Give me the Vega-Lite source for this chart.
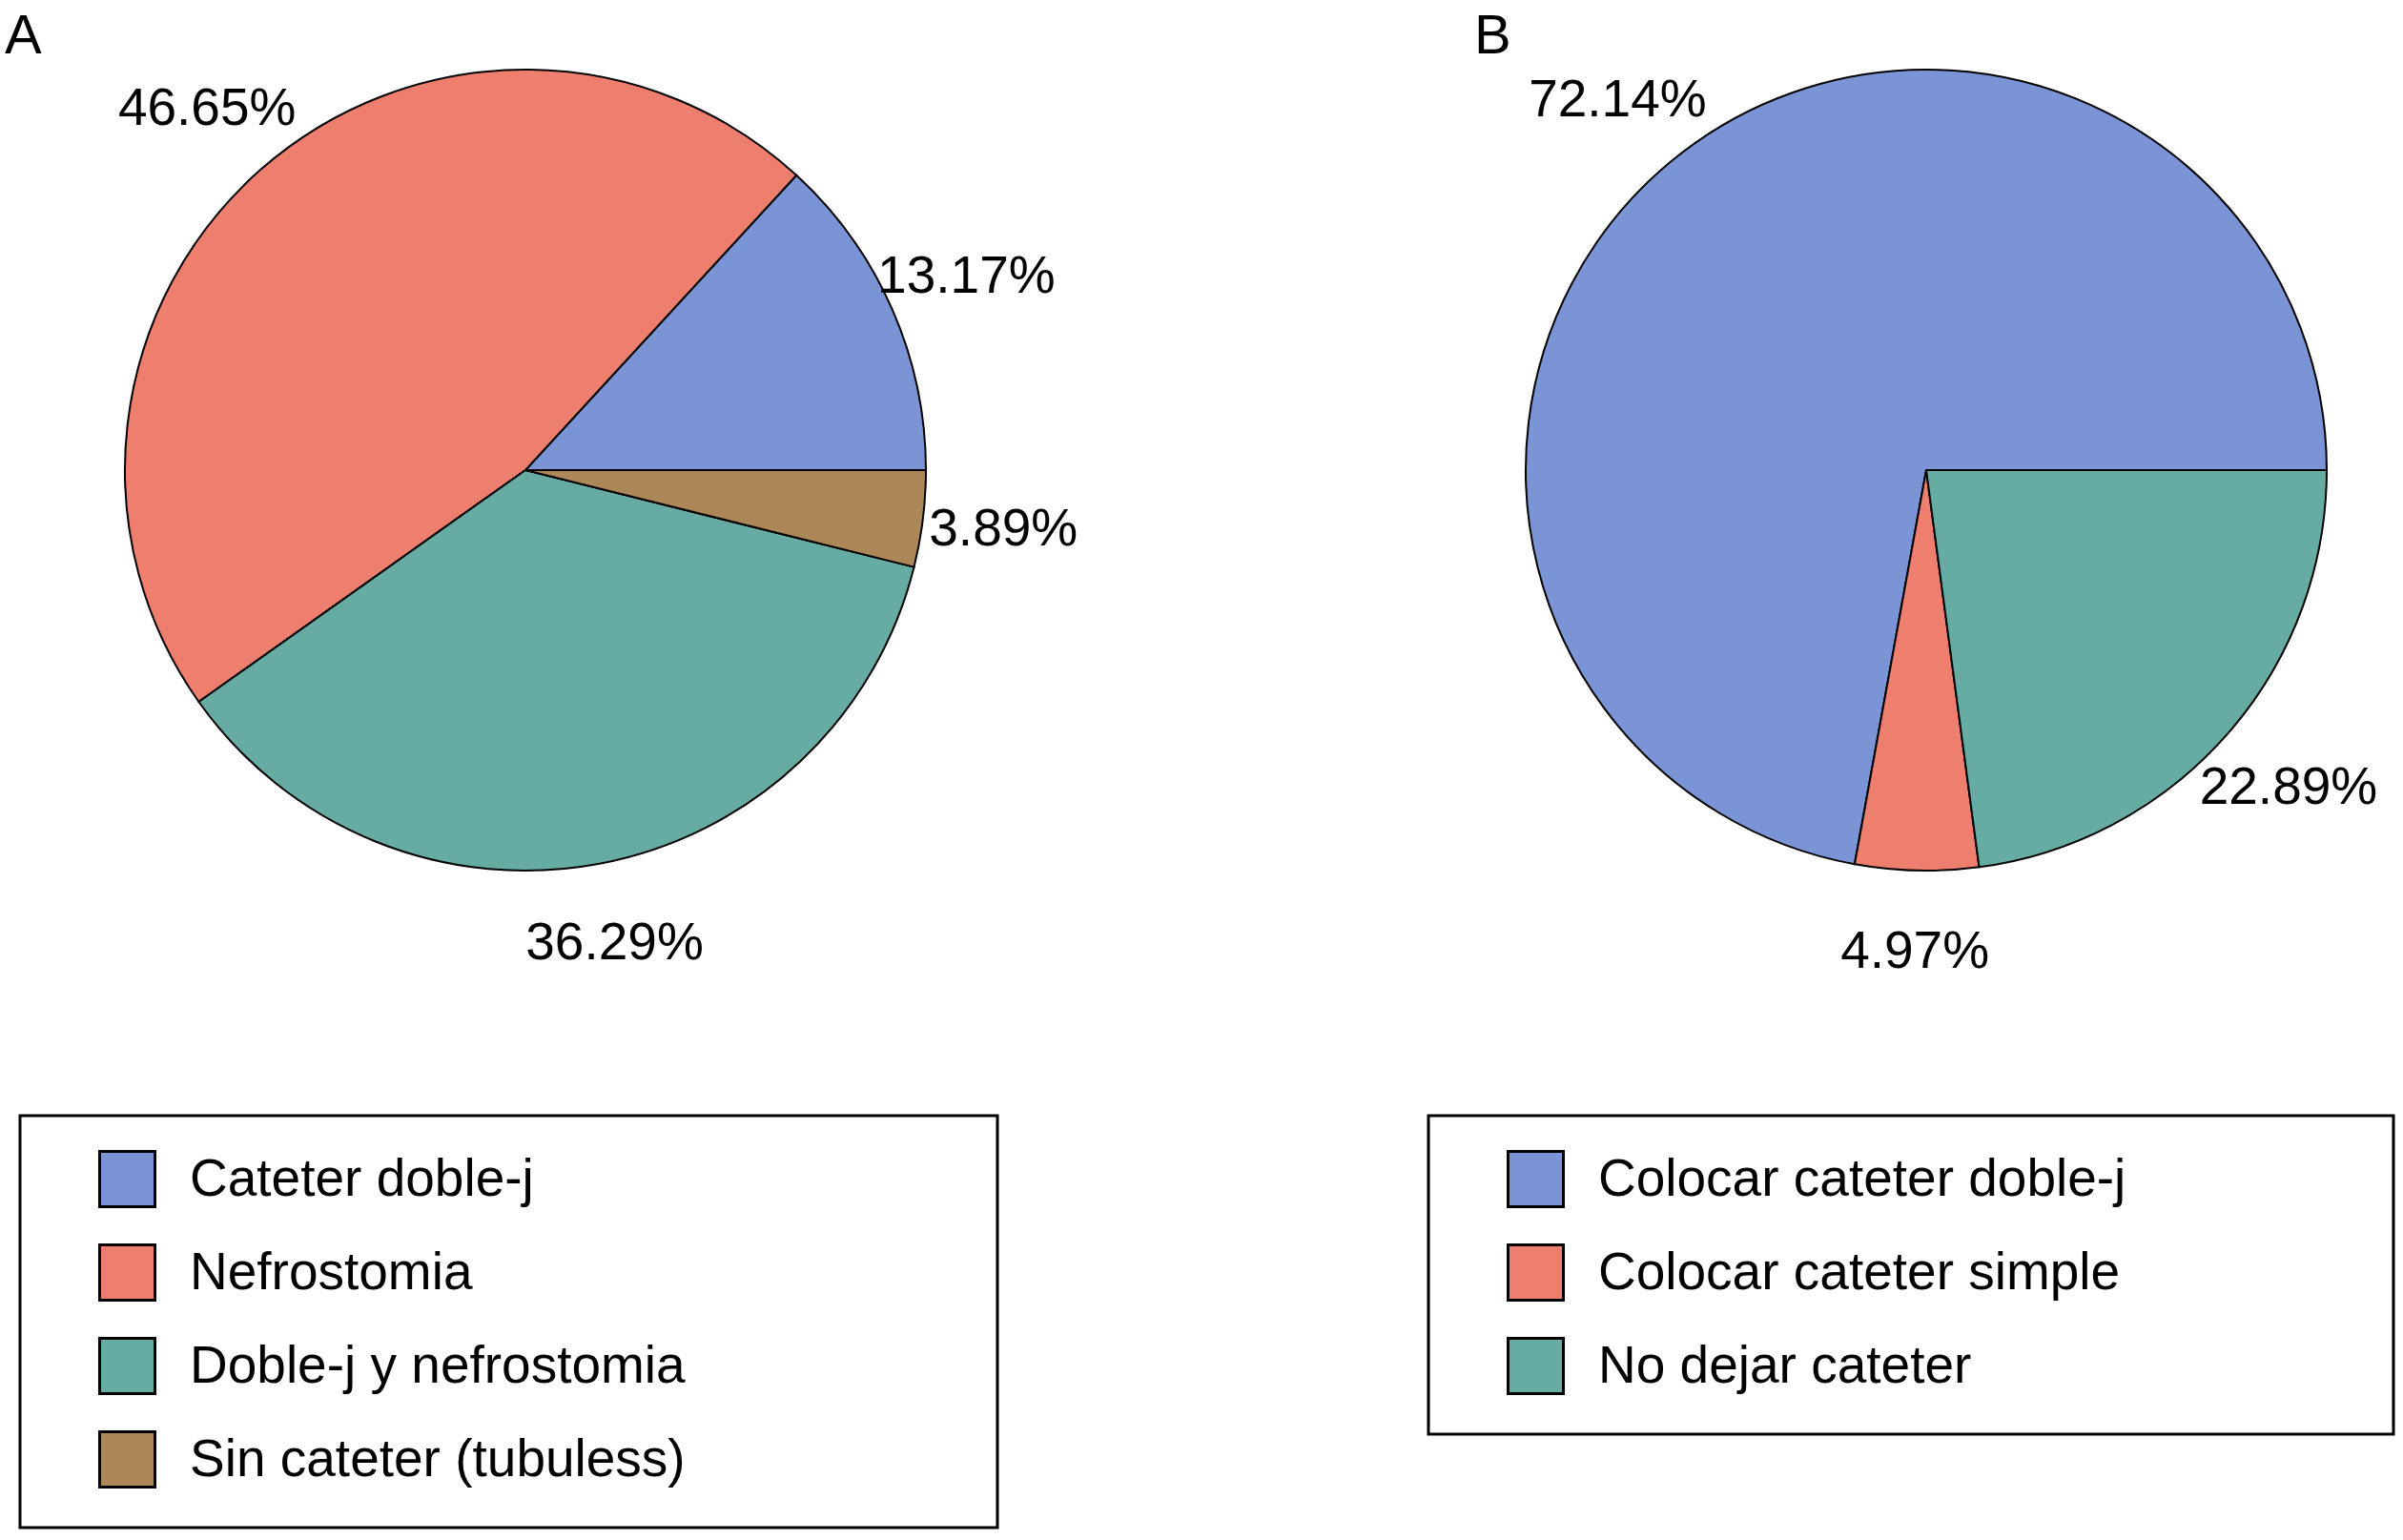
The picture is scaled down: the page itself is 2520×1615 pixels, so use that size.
{
  "$schema": "https://vega.github.io/schema/vega-lite/v6.json",
  "background": "white",
  "padding": {"left": 5, "top": 10, "right": 0, "bottom": 0},
  "spacing": 423,
  "bounds": "flush",
  "config": {"view": {"stroke": null}, "font": "Liberation Sans"},
  "resolve": {"scale": {"color": "independent", "theta": "independent"}, "legend": {"color": "independent"}},
  "hconcat": [
    {
      "width": 1092,
      "height": 850,
      "title": {"text": "A", "anchor": "start", "frame": "group", "fontSize": 58, "fontWeight": "normal", "font": "Liberation Sans", "color": "black", "offset": 0, "dx": 0},
      "data": {"values": [
        {"cat": "Cateter doble-j", "pct": 0.1317, "idx": 1},
        {"cat": "Nefrostomia", "pct": 0.4665, "idx": 2},
        {"cat": "Doble-j y nefrostomia", "pct": 0.3629, "idx": 3},
        {"cat": "Sin cateter (tubuless)", "pct": 0.0389, "idx": 4}
      ]},
      "encoding": {
        "theta": {"field": "pct", "type": "quantitative", "stack": true, "scale": {"domain": [0, 1], "range": [1.5707963, -4.712389]}},
        "order": {"field": "idx", "type": "quantitative"}
      },
      "layer": [
        {
          "mark": {"type": "arc", "radius": 420, "stroke": "black", "strokeWidth": 2},
          "encoding": {
            "color": {
              "field": "cat", "type": "nominal",
              "scale": {"domain": ["Cateter doble-j", "Nefrostomia", "Doble-j y nefrostomia", "Sin cateter (tubuless)"], "range": ["#7B94D6", "#EE7F6F", "#66ACA3", "#AC8757"]},
              "legend": {
                "orient": "none", "legendX": 16, "legendY": 1102, "title": null,
                "symbolType": "square", "symbolSize": 3364, "symbolStrokeColor": "black", "symbolStrokeWidth": 3, "symbolOpacity": 1,
                "symbolOffset": 46, "labelOffset": 35, "labelFontSize": 55, "labelFont": "Liberation Sans", "labelColor": "black", "labelLimit": 3000,
                "rowPadding": 27, "padding": 36, "strokeColor": "black", "fillColor": "white",
                "labelExpr": "datum.label + '\u00a0\u00a0\u00a0\u00a0\u00a0\u00a0\u00a0\u00a0\u00a0\u00a0\u00a0\u00a0\u00a0\u00a0\u00a0\u00a0\u00a0\u00a0\u00a0\u200b'",
                "encode": {"legend": {"update": {"strokeWidth": {"value": 3}}}}
              }
            }
          }
        },
        {
          "mark": {"type": "text", "radius": 505, "fontSize": 55, "font": "Liberation Sans", "color": "black", "baseline": "middle", "align": "center"},
          "encoding": {
            "text": {"field": "pct", "type": "quantitative", "format": ".2%"},
            "detail": {"field": "cat"}
          }
        }
      ]
    },
    {
      "width": 1000,
      "height": 850,
      "title": {"text": "B", "anchor": "start", "frame": "group", "fontSize": 58, "fontWeight": "normal", "font": "Liberation Sans", "color": "black", "offset": 0, "dx": 26},
      "data": {"values": [
        {"cat": "Colocar cateter doble-j", "pct": 0.7214, "idx": 1},
        {"cat": "Colocar cateter simple", "pct": 0.0497, "idx": 2},
        {"cat": "No dejar cateter", "pct": 0.2289, "idx": 3}
      ]},
      "encoding": {
        "theta": {"field": "pct", "type": "quantitative", "stack": true, "scale": {"domain": [0, 1], "range": [1.5707963, -4.712389]}},
        "order": {"field": "idx", "type": "quantitative"}
      },
      "layer": [
        {
          "mark": {"type": "arc", "radius": 420, "stroke": "black", "strokeWidth": 2},
          "encoding": {
            "color": {
              "field": "cat", "type": "nominal",
              "scale": {"domain": ["Colocar cateter doble-j", "Colocar cateter simple", "No dejar cateter"], "range": ["#7B94D6", "#EE7F6F", "#66ACA3"]},
              "legend": {
                "orient": "none", "legendX": -22, "legendY": 1102, "title": null,
                "symbolType": "square", "symbolSize": 3364, "symbolStrokeColor": "black", "symbolStrokeWidth": 3, "symbolOpacity": 1,
                "symbolOffset": 46, "labelOffset": 35, "labelFontSize": 55, "labelFont": "Liberation Sans", "labelColor": "black", "labelLimit": 3000,
                "rowPadding": 27, "padding": 36, "strokeColor": "black", "fillColor": "white",
                "labelExpr": "datum.label + '\u00a0\u00a0\u00a0\u00a0\u00a0\u00a0\u00a0\u00a0\u00a0\u00a0\u00a0\u00a0\u00a0\u00a0\u00a0\u00a0\u200b'",
                "encode": {"legend": {"update": {"strokeWidth": {"value": 3}}}}
              }
            }
          }
        },
        {
          "mark": {"type": "text", "radius": 505, "fontSize": 55, "font": "Liberation Sans", "color": "black", "baseline": "middle", "align": "center"},
          "encoding": {
            "text": {"field": "pct", "type": "quantitative", "format": ".2%"},
            "detail": {"field": "cat"}
          }
        }
      ]
    }
  ]
}
